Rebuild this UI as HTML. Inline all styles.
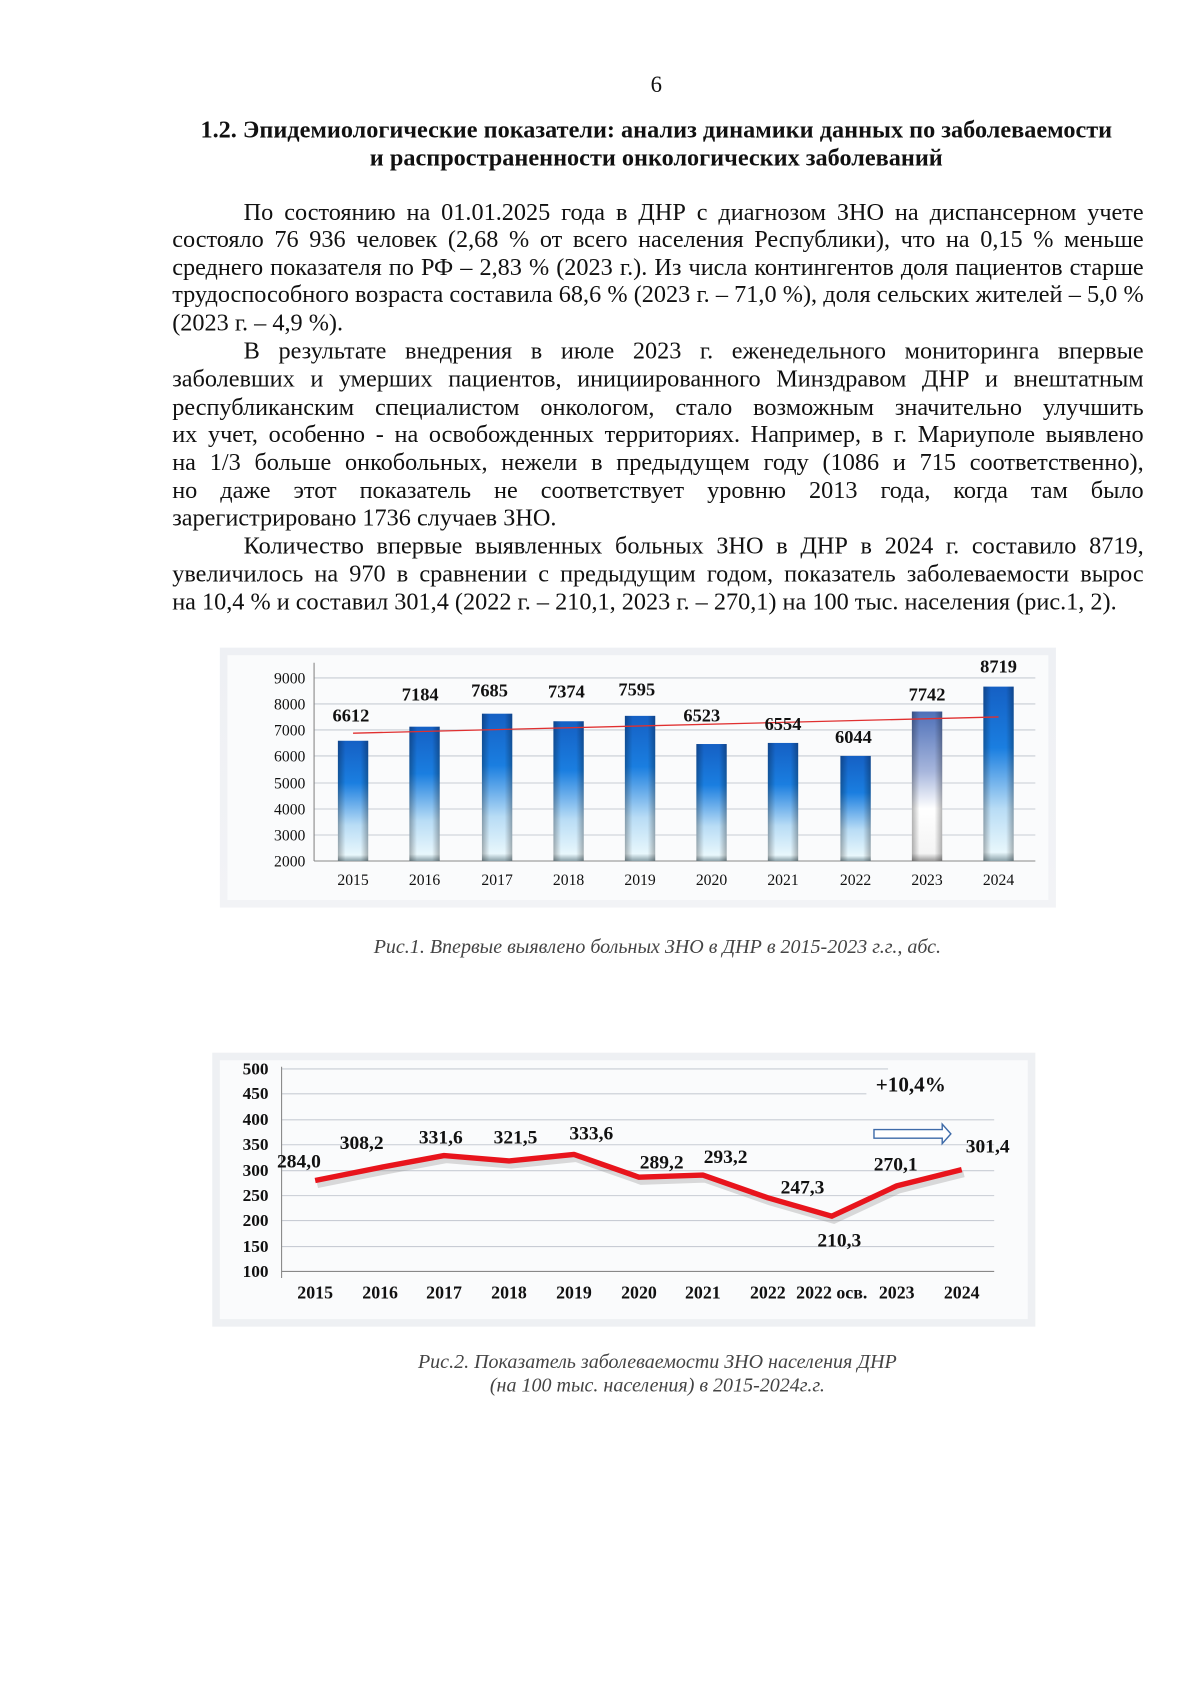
<!DOCTYPE html>
<html><head><meta charset="utf-8"><style>
html,body{margin:0;padding:0;background:#fff;}
#w{position:absolute;left:0;top:0;width:1100px;height:1570px;transform:scale(1.083);transform-origin:0 0;font-family:"Liberation Serif",serif;color:#111;}
.c{position:absolute;left:0;width:1212px;text-align:center;white-space:nowrap;}
.l{position:absolute;left:159px;width:897px;font-size:22.4px;text-align:justify;text-align-last:justify;white-space:nowrap;line-height:22px;}
.l.nj{text-align-last:left;}
svg text{font-family:"Liberation Serif",serif;}
</style></head><body><div id="w">
<div class="c" style="top:66px;font-size:21px;">6</div>
<div class="c" style="top:107px;font-size:22.4px;font-weight:bold;">1.2. Эпидемиологические показатели: анализ динамики данных по заболеваемости</div>
<div class="c" style="top:133px;font-size:22.4px;font-weight:bold;">и распространенности онкологических заболеваний</div>

<div class="l" style="top:185px;padding-left:66px;width:831px;">По состоянию на 01.01.2025 года в ДНР с диагнозом ЗНО на диспансерном учете</div>
<div class="l" style="top:210px;">состояло 76 936 человек (2,68 % от всего населения Республики), что на 0,15 % меньше</div>
<div class="l" style="top:236px;">среднего показателя по РФ – 2,83 % (2023 г.). Из числа контингентов доля пациентов старше</div>
<div class="l" style="top:261px;">трудоспособного возраста составила 68,6 % (2023 г. – 71,0 %), доля сельских жителей – 5,0 %</div>
<div class="l nj" style="top:287px;">(2023 г. – 4,9 %).</div>
<div class="l" style="top:313px;padding-left:66px;width:831px;">В результате внедрения в июле 2023 г. еженедельного мониторинга впервые</div>
<div class="l" style="top:339px;">заболевших и умерших пациентов, инициированного Минздравом ДНР и внештатным</div>
<div class="l" style="top:365px;">республиканским специалистом онкологом, стало возможным значительно улучшить</div>
<div class="l" style="top:390px;">их учет, особенно - на освобожденных территориях. Например, в г. Мариуполе выявлено</div>
<div class="l" style="top:416px;">на 1/3 больше онкобольных, нежели в предыдущем году (1086 и 715 соответственно),</div>
<div class="l" style="top:442px;">но даже этот показатель не соответствует уровню 2013 года, когда там было</div>
<div class="l nj" style="top:467px;">зарегистрировано 1736 случаев ЗНО.</div>
<div class="l" style="top:493px;padding-left:66px;width:831px;">Количество впервые выявленных больных ЗНО в ДНР в 2024 г. составило 8719,</div>
<div class="l" style="top:519px;">увеличилось на 970 в сравнении с предыдущим годом, показатель заболеваемости вырос</div>
<div class="l nj" style="top:545px;">на 10,4 % и составил 301,4 (2022 г. – 210,1, 2023 г. – 270,1) на 100 тыс. населения (рис.1, 2).</div>

<svg style="position:absolute;left:0;top:0" width="1100" height="1570">
<defs>
<linearGradient id="bg1" x1="0" y1="0" x2="0" y2="1"><stop offset="0" stop-color="#eef0f4"/><stop offset="1" stop-color="#f2f3f6"/></linearGradient>
<linearGradient id="bar" x1="0" y1="0" x2="0" y2="1"><stop offset="0" stop-color="#1560c4"/><stop offset="0.35" stop-color="#1a7ee0"/><stop offset="0.7" stop-color="#b8dcf5"/><stop offset="0.95" stop-color="#e8f7fc"/><stop offset="1" stop-color="#8aa0a8"/></linearGradient>
<linearGradient id="bar23" x1="0" y1="0" x2="0" y2="1"><stop offset="0" stop-color="#4e70b8"/><stop offset="0.4" stop-color="#a7b6dc"/><stop offset="0.65" stop-color="#ffffff"/><stop offset="0.95" stop-color="#f4f4f4"/><stop offset="1" stop-color="#999"/></linearGradient>
<linearGradient id="sh" x1="0" y1="0" x2="1" y2="0"><stop offset="0" stop-color="#000" stop-opacity="0.3"/><stop offset="0.25" stop-color="#000" stop-opacity="0"/><stop offset="0.75" stop-color="#000" stop-opacity="0"/><stop offset="1" stop-color="#000" stop-opacity="0.3"/></linearGradient>
</defs>
<rect x="203" y="598" width="772" height="240" fill="url(#bg1)"/>
<rect x="210" y="605" width="758" height="226" fill="#fafbfc"/>
<g stroke="#c8ccd4" stroke-width="1">
<line x1="290" x2="956" y1="626" y2="626"/><line x1="290" x2="956" y1="650" y2="650"/><line x1="290" x2="956" y1="674" y2="674"/><line x1="290" x2="956" y1="698" y2="698"/><line x1="290" x2="956" y1="723" y2="723"/><line x1="290" x2="956" y1="747" y2="747"/><line x1="290" x2="956" y1="771" y2="771"/>
</g>
<g stroke="#888" stroke-width="1"><line x1="290" x2="290" y1="612" y2="795"/><line x1="290" x2="956" y1="795" y2="795"/></g>
<g font-size="14.5" text-anchor="end" fill="#111">
<text x="282" y="631">9000</text><text x="282" y="655">8000</text><text x="282" y="679">7000</text><text x="282" y="703">6000</text><text x="282" y="728">5000</text><text x="282" y="752">4000</text><text x="282" y="776">3000</text><text x="282" y="800">2000</text>
</g>
<g>
<rect x="312" y="684" width="28" height="111" fill="url(#bar)"/><rect x="312" y="684" width="28" height="111" fill="url(#sh)"/>
<rect x="378" y="671" width="28" height="124" fill="url(#bar)"/><rect x="378" y="671" width="28" height="124" fill="url(#sh)"/>
<rect x="445" y="659" width="28" height="136" fill="url(#bar)"/><rect x="445" y="659" width="28" height="136" fill="url(#sh)"/>
<rect x="511" y="666" width="28" height="129" fill="url(#bar)"/><rect x="511" y="666" width="28" height="129" fill="url(#sh)"/>
<rect x="577" y="661" width="28" height="134" fill="url(#bar)"/><rect x="577" y="661" width="28" height="134" fill="url(#sh)"/>
<rect x="643" y="687" width="28" height="108" fill="url(#bar)"/><rect x="643" y="687" width="28" height="108" fill="url(#sh)"/>
<rect x="709" y="686" width="28" height="109" fill="url(#bar)"/><rect x="709" y="686" width="28" height="109" fill="url(#sh)"/>
<rect x="776" y="698" width="28" height="97" fill="url(#bar)"/><rect x="776" y="698" width="28" height="97" fill="url(#sh)"/>
<rect x="842" y="657" width="28" height="138" fill="url(#bar23)"/><rect x="842" y="657" width="28" height="138" fill="url(#sh)"/>
<rect x="908" y="634" width="28" height="161" fill="url(#bar)"/><rect x="908" y="634" width="28" height="161" fill="url(#sh)"/>
</g>
<line x1="326" y1="677" x2="922" y2="662" stroke="#e03030" stroke-width="1.2"/>
<g font-size="17" font-weight="bold" text-anchor="middle" fill="#111">
<text x="324" y="666">6612</text><text x="388" y="647">7184</text><text x="452" y="643">7685</text><text x="523" y="644">7374</text><text x="588" y="642">7595</text><text x="648" y="666">6523</text><text x="723" y="674">6554</text><text x="788" y="686">6044</text><text x="856" y="647">7742</text><text x="922" y="621">8719</text>
</g>
<g font-size="14.5" text-anchor="middle" fill="#111">
<text x="326" y="817">2015</text><text x="392" y="817">2016</text><text x="459" y="817">2017</text><text x="525" y="817">2018</text><text x="591" y="817">2019</text><text x="657" y="817">2020</text><text x="723" y="817">2021</text><text x="790" y="817">2022</text><text x="856" y="817">2023</text><text x="922" y="817">2024</text>
</g>
<text x="607" y="880" font-size="18.5" font-style="italic" text-anchor="middle" fill="#444">Рис.1. Впервые выявлено больных ЗНО в ДНР в 2015-2023 г.г., абс.</text>

<rect x="196" y="972" width="760" height="253" fill="#eef0f3"/>
<rect x="203" y="979" width="746" height="239" fill="#fafbfc"/>
<g stroke="#c8ccd4" stroke-width="1">
<line x1="260" x2="820" y1="987" y2="987"/><line x1="260" x2="800" y1="1010" y2="1010"/><line x1="260" x2="918" y1="1034" y2="1034"/><line x1="260" x2="918" y1="1057" y2="1057"/><line x1="260" x2="918" y1="1081" y2="1081"/><line x1="260" x2="918" y1="1104" y2="1104"/><line x1="260" x2="918" y1="1127" y2="1127"/><line x1="260" x2="918" y1="1151" y2="1151"/>
</g>
<g stroke="#888"><line x1="260" x2="260" y1="985" y2="1180"/><line x1="260" x2="918" y1="1174" y2="1174"/></g>
<g font-size="16" font-weight="bold" text-anchor="end" fill="#111">
<text x="248" y="992">500</text><text x="248" y="1015">450</text><text x="248" y="1039">400</text><text x="248" y="1062">350</text><text x="248" y="1086">300</text><text x="248" y="1109">250</text><text x="248" y="1132">200</text><text x="248" y="1156">150</text><text x="248" y="1179">100</text>
</g>
<polyline points="291,1090 351,1078 410,1067 470,1072 530,1066 590,1087 649,1085 709,1106 768,1123 828,1095 888,1080" fill="none" stroke="#999" stroke-opacity="0.35" stroke-width="6" transform="translate(2,4)"/>
<polyline points="291,1090 351,1078 410,1067 470,1072 530,1066 590,1087 649,1085 709,1106 768,1123 828,1095 888,1080" fill="none" stroke="#e8141c" stroke-width="5" stroke-linejoin="round"/>
<g font-size="18" font-weight="bold" text-anchor="middle" fill="#111">
<text x="276" y="1078">284,0</text><text x="334" y="1061">308,2</text><text x="407" y="1056">331,6</text><text x="476" y="1056">321,5</text><text x="546" y="1052">333,6</text><text x="611" y="1079">289,2</text><text x="670" y="1074">293,2</text><text x="741" y="1102">247,3</text><text x="775" y="1151">210,3</text><text x="827" y="1081">270,1</text><text x="912" y="1064">301,4</text>
<text x="841" y="1008" font-size="19.5">+10,4%</text>
</g>
<path d="M807,1043 L870,1043 L870,1038 L878,1047 L870,1056 L870,1051 L807,1051 Z" fill="#fff" stroke="#3d6aa8" stroke-width="1.3"/>
<g font-size="16.5" font-weight="bold" text-anchor="middle" fill="#111">
<text x="291" y="1199">2015</text><text x="351" y="1199">2016</text><text x="410" y="1199">2017</text><text x="470" y="1199">2018</text><text x="530" y="1199">2019</text><text x="590" y="1199">2020</text><text x="649" y="1199">2021</text><text x="709" y="1199">2022</text><text x="768" y="1199">2022 осв.</text><text x="828" y="1199">2023</text><text x="888" y="1199">2024</text>
</g>
<text x="607" y="1263" font-size="18.5" font-style="italic" text-anchor="middle" fill="#444">Рис.2. Показатель заболеваемости ЗНО населения ДНР</text>
<text x="607" y="1285" font-size="18.5" font-style="italic" text-anchor="middle" fill="#444">(на 100 тыс. населения) в 2015-2024г.г.</text>
</svg>
</div></body></html>
